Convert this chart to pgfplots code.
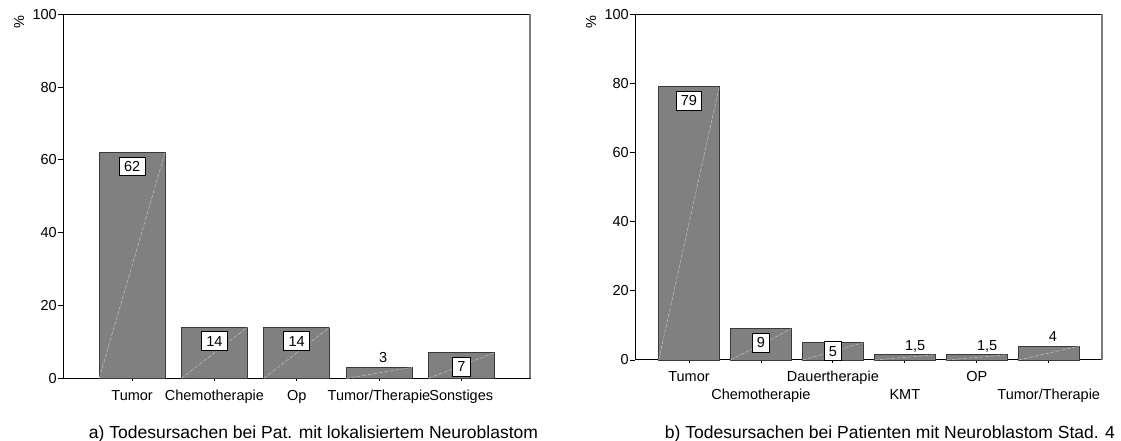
\documentclass[border=0pt]{standalone}
\usepackage{pgfplots}
\pgfplotsset{compat=1.18}
\usepackage{fontspec}
\setmainfont{Liberation Sans}

\definecolor{barfill}{HTML}{808080}
\definecolor{baredge}{HTML}{3A3A3A}
\definecolor{diagline}{HTML}{B8B8B8}
\definecolor{rightedge}{HTML}{7A7A7A}

\newcommand{\tickfont}{\fontsize{14.5bp}{16bp}\selectfont}
\newcommand{\capfont}{\fontsize{17.5bp}{20bp}\selectfont}

\pgfplotsset{
  causes/.style={
    scale only axis,
    width=467bp,
    ymin=0, ymax=100,
    ytick={0,20,40,60,80,100},
    ytick align=outside, ytick pos=left,
    xtick align=center, xtick pos=left,
    major tick length=5.5bp,
    tick style={black, line width=0.8bp},
    axis line style={black, line width=1bp},
    /pgf/number format/assume math mode=true,
    tick label style={font=\tickfont},
    yticklabel style={inner sep=0.5bp},
    xticklabel style={anchor=base, inner sep=0pt, yshift=-19bp},
    ylabel={\%},
    every axis y label/.style={at={(axis description cs:-0.094,0.978)},
      anchor=center, rotate=90, font=\tickfont},
    after end axis/.code={\draw[rightedge, line width=1.8bp]
      (rel axis cs:1,0) -- (rel axis cs:1,1);},
    clip=false,
  },
  causebar/.style={ybar, bar shift=0pt, fill=barfill, draw=baredge, line width=0.8bp},
  diag/.style={diagline, line width=0.6bp, dash pattern=on 4bp off 1.5bp, forget plot},
  boxlabel/.style={draw=none, mark=none, nodes near coords, point meta=explicit symbolic,
    nodes near coords style={anchor=north, yshift=-4bp, fill=white, draw=black,
      line width=0.8bp, font=\tickfont, inner xsep=4.8bp, inner ysep=4.2bp,
      text height=10.4bp, text depth=0pt}},
  plainlabel/.style={draw=none, mark=none, nodes near coords, point meta=explicit symbolic,
    nodes near coords style={anchor=base west, yshift=4.5bp, inner sep=0pt, font=\tickfont}},
}

\begin{document}
\begin{tikzpicture}
\path[use as bounding box] (0,0) rectangle (1121bp,441bp);

% a) localised neuroblastoma
\begin{axis}[causes,
    at={(63bp,62.7bp)}, anchor=south west,
    height=364bp,
    xmin=-0.84, xmax=4.835,
    xtick={0,1,2,3,4},
    xticklabels={Tumor,Chemotherapie,Op,Tumor/Therapie,Sonstiges},
  ]
  \addplot[causebar, bar width=0.8] coordinates {(0,62) (1,14) (2,14) (3,3) (4,7)};
  \addplot[diag] coordinates {(-0.4,0) (0.4,62)};
  \addplot[diag] coordinates {(0.6,0) (1.4,14)};
  \addplot[diag] coordinates {(1.6,0) (2.4,14)};
  \addplot[diag] coordinates {(2.6,0) (3.4,3)};
  \addplot[diag] coordinates {(3.6,0) (4.4,7)};
  \addplot[boxlabel] coordinates {(0,62)[62] (1,14)[14] (2,14)[14] (4,7)[7]};
  \addplot[plainlabel] coordinates {(3,3)[3]};
\end{axis}

% b) stage 4 neuroblastoma
\begin{axis}[causes,
    at={(635bp,81bp)}, anchor=south west,
    height=345.7bp,
    xmin=-0.75, xmax=5.74,
    xtick={0,2,4},
    xticklabels={Tumor,Dauertherapie,OP},
    extra x ticks={1,3,5},
    extra x tick labels={Chemotherapie,KMT,Tumor/Therapie},
    extra x tick style={xticklabel style={yshift=-17.7bp}},
  ]
  \addplot[causebar, bar width=0.84] coordinates {(0,79) (1,9) (2,5) (3,1.5) (4,1.5) (5,4)};
  \addplot[diag] coordinates {(-0.42,0) (0.42,79)};
  \addplot[diag] coordinates {(0.58,0) (1.42,9)};
  \addplot[diag] coordinates {(1.58,0) (2.42,5)};
  \addplot[diag] coordinates {(2.58,0) (3.42,1.5)};
  \addplot[diag] coordinates {(3.58,0) (4.42,1.5)};
  \addplot[diag] coordinates {(4.58,0) (5.42,4)};
  \addplot[boxlabel] coordinates {(0,79)[79] (1,9)[9]};
  \addplot[boxlabel, nodes near coords style={yshift=5.7bp}] coordinates {(2,5)[5]};
  \addplot[plainlabel] coordinates {(3,1.5)[1,5] (4,1.5)[1,5] (5,4)[4]};
\end{axis}

\node[font=\capfont, anchor=base] at (313.5bp,3bp)
  {a) Todesursachen bei Pat. mit lokalisiertem Neuroblastom};
\node[font=\capfont, anchor=base] at (890bp,3bp)
  {b) Todesursachen bei Patienten mit Neuroblastom Stad. 4};
\end{tikzpicture}
\end{document}
